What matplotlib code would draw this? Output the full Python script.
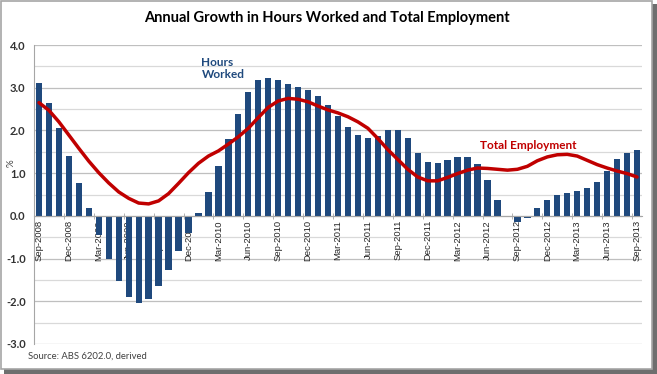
import numpy as np
import matplotlib
matplotlib.use('Agg')
import matplotlib.pyplot as plt
from matplotlib.patches import Rectangle

# monthly, Sep-2008 .. Sep-2013
months = ['Sep-2008', 'Oct-2008', 'Nov-2008', 'Dec-2008', 'Jan-2009', 'Feb-2009',
          'Mar-2009', 'Apr-2009', 'May-2009', 'Jun-2009', 'Jul-2009', 'Aug-2009',
          'Sep-2009', 'Oct-2009', 'Nov-2009', 'Dec-2009', 'Jan-2010', 'Feb-2010',
          'Mar-2010', 'Apr-2010', 'May-2010', 'Jun-2010', 'Jul-2010', 'Aug-2010',
          'Sep-2010', 'Oct-2010', 'Nov-2010', 'Dec-2010', 'Jan-2011', 'Feb-2011',
          'Mar-2011', 'Apr-2011', 'May-2011', 'Jun-2011', 'Jul-2011', 'Aug-2011',
          'Sep-2011', 'Oct-2011', 'Nov-2011', 'Dec-2011', 'Jan-2012', 'Feb-2012',
          'Mar-2012', 'Apr-2012', 'May-2012', 'Jun-2012', 'Jul-2012', 'Aug-2012',
          'Sep-2012', 'Oct-2012', 'Nov-2012', 'Dec-2012', 'Jan-2013', 'Feb-2013',
          'Mar-2013', 'Apr-2013', 'May-2013', 'Jun-2013', 'Jul-2013', 'Aug-2013',
          'Sep-2013']

hours_worked = [3.12, 2.65, 2.05, 1.41, 0.77, 0.19,
                -0.45, -1.00, -1.53, -1.91, -2.03, -1.94,
                -1.65, -1.26, -0.82, -0.40, 0.06, 0.55,
                1.16, 1.79, 2.39, 2.89, 3.17, 3.23,
                3.19, 3.09, 3.02, 2.95, 2.81, 2.59,
                2.33, 2.08, 1.90, 1.82, 1.88, 2.02,
                2.02, 1.82, 1.48, 1.27, 1.23, 1.30,
                1.37, 1.37, 1.21, 0.85, 0.38, -0.02,
                -0.15, -0.04, 0.18, 0.38, 0.49, 0.54,
                0.59, 0.66, 0.80, 1.05, 1.32, 1.48,
                1.54]

total_employment = [2.65, 2.47, 2.20, 1.89, 1.58, 1.28,
                    1.01, 0.77, 0.56, 0.41, 0.30, 0.28,
                    0.35, 0.52, 0.76, 1.01, 1.23, 1.40,
                    1.52, 1.68, 1.85, 2.05, 2.30, 2.54,
                    2.69, 2.75, 2.73, 2.67, 2.57, 2.48,
                    2.41, 2.32, 2.20, 2.05, 1.81, 1.55,
                    1.32, 1.09, 0.91, 0.82, 0.82, 0.90,
                    0.99, 1.07, 1.12, 1.11, 1.09, 1.07,
                    1.09, 1.16, 1.29, 1.38, 1.43, 1.44,
                    1.40, 1.30, 1.20, 1.12, 1.05, 0.99,
                    0.91]

x = np.arange(len(months))
bar_color = '#1F497D'
line_color = '#C00000'
title_font = 'Lato'

fig = plt.figure(figsize=(6.57, 3.74), dpi=100)

# frame with drop shadow
fig.patches.append(Rectangle((4 / 657, 0), 653 / 657, 370 / 374, transform=fig.transFigure,
                             facecolor='#6e6e6e', edgecolor='none', zorder=-3))
fig.patches.append(Rectangle((0.5 / 657, 5 / 374), 651 / 657, 368 / 374, transform=fig.transFigure,
                             facecolor='white', edgecolor='#a6a6a6', linewidth=1.2, zorder=-2))

ax = fig.add_axes([34 / 657, 30 / 374, 608 / 657, 299 / 374])
ax.set_facecolor('none')

ax.bar(x, hours_worked, width=0.63, color=bar_color, zorder=2)
ax.plot(x, total_employment, color=line_color, linewidth=2.5, solid_capstyle='round',
        solid_joinstyle='round', zorder=3)

ax.set_xlim(-0.5, 60.5)
ax.set_ylim(-3.0, 4.0)

# gridlines every 0.5
for v in np.arange(-3.0, 4.01, 0.5):
    ax.axhline(v, color='#bfbfbf' if v % 1 == 0 else '#d9d9d9', linewidth=0.9, zorder=1)

ax.set_yticks(np.arange(-3.0, 4.01, 1.0))
ax.set_yticklabels(['%.1f' % v for v in np.arange(-3.0, 4.01, 1.0)],
                   fontsize=8, fontweight='bold', family=title_font, color='#333333')
ax.tick_params(axis='y', length=0, pad=6)

ax.spines['top'].set_visible(False)
ax.spines['right'].set_visible(False)
ax.spines['left'].set_color('#a6a6a6')
ax.spines['bottom'].set_position(('data', 0))
ax.spines['bottom'].set_color('#a6a6a6')
ax.spines['bottom'].set_zorder(4)

ax.set_xticks(x[::3])
ax.set_xticklabels(months[::3], rotation=90, fontsize=6.8, family='Liberation Sans', color='#262626')
ax.set_xticks(x[::3] - 0.5, minor=True)
ax.tick_params(axis='x', which='major', length=0, pad=3)
ax.tick_params(axis='x', which='minor', length=4, direction='inout', color='#a6a6a6')

ax.set_ylabel('%', fontsize=7, family=title_font, color='#404040', labelpad=2)
ax.yaxis.set_label_coords(-0.03, 0.605)

fig.text(0.497, 0.953, 'Annual Growth in Hours Worked and Total Employment',
         ha='center', va='center', fontsize=10.5, fontweight='bold', family=title_font, color='black')
ax.text(16.3, 3.45, 'Hours\nWorked', ha='left', va='center', fontsize=8.5, fontweight='bold',
        family=title_font, color=bar_color, linespacing=1.15)
ax.text(44.2, 1.65, 'Total Employment', ha='left', va='center', fontsize=8.5, fontweight='bold',
        family=title_font, color=line_color)
fig.text(28 / 657, 1 - 356 / 374, 'Source: ABS 6202.0, derived', ha='left', va='center',
         fontsize=6.8, family=title_font, color='#404040')

fig.savefig('out.png', dpi=100)
